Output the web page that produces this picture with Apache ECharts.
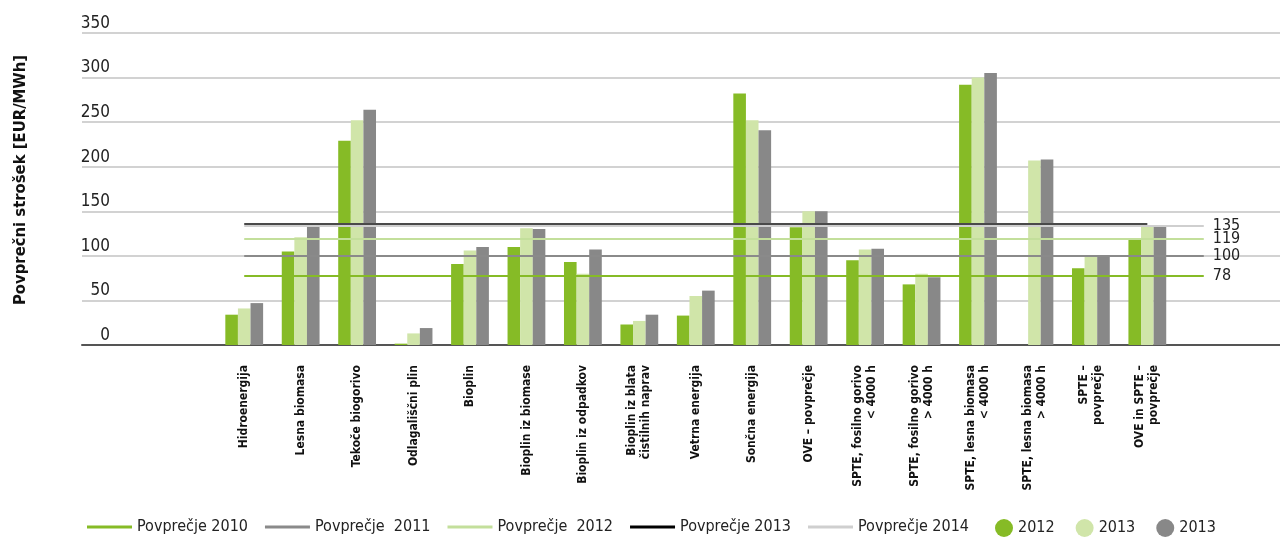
<!DOCTYPE html>
<html>
<head>
<meta charset="utf-8">
<title>Povprečni strošek</title>
<script src="https://cdn.jsdelivr.net/npm/echarts@6/dist/echarts.min.js"></script>
<style>
  html, body { margin: 0; padding: 0; background: #fff; }
  #main { width: 1280px; height: 538px; }
</style>
</head>
<body>
<div id="main"></div>
<script>
// data
var categories = ['Hidroenergija', 'Lesna biomasa', 'Tekoče biogorivo', 'Odlagališčni plin', 'Bioplin',
    'Bioplin iz biomase', 'Bioplin iz odpadkov', 'Bioplin iz blata\nčistilnih naprav', 'Vetrna energija',
    'Sončna energija', 'OVE – povprečje', 'SPTE, fosilno gorivo\n< 4000 h', 'SPTE, fosilno gorivo\n> 4000 h',
    'SPTE, lesna biomasa\n< 4000 h', 'SPTE, lesna biomasa\n> 4000 h', 'SPTE –\npovprečje', 'OVE in SPTE –\npovprečje'];
var cost2012  = [34, 105, 229, 1.5, 91, 110, 93, 23, 33, 282, 132, 95, 68, 292, null, 86, 118];
var cost2013a = [41, 121, 252, 13, 106, 131, 80, 27, 55, 252, 150, 107, 80, 300, 207, 99, 134];
var cost2013b = [47, 134, 264, 19, 110, 130, 107, 34, 61, 241, 150, 108, 76, 305, 208, 100, 134];
var barNames = ['2012', '2013', '2013 '];
var barColors = ['#86bb26', '#d0e5a9', '#888888'];

var avgNames  = ['Povprečje 2010', 'Povprečje  2011', 'Povprečje  2012', 'Povprečje 2013', 'Povprečje 2014'];
var avgValues = [78, 100, 119, 136, 134];
var avgLabels = ['78', '100', '119', '', '135'];
var avgColors = ['#86bb26', '#8a8a8a', '#c3df9b', '#4a4a4a', '#cfcfcf'];
var avgLegendColors = ['#86bb26', '#8a8a8a', '#c3df9b', '#000000', '#cfcfcf'];
var avgLastCat = [17, 17, 17, 16, 17];

var yTicks = { min: 0, max: 350, interval: 50 };

var FONT = '"DejaVu Sans Condensed", "DejaVu Sans", sans-serif';

var myChart = echarts.init(document.getElementById('main'));

var series = [];
for (var i = 0; i < 3; i++) {
    series.push({
        name: barNames[i],
        type: 'bar',
        xAxisIndex: 1,
        yAxisIndex: 1,
        data: [cost2012, cost2013a, cost2013b][i],
        barWidth: 12.6,
        barGap: '0%',
        itemStyle: { color: barColors[i] },
        z: 2,
        animation: false
    });
}
for (var j = 0; j < avgNames.length; j++) {
    series.push({
        name: avgNames[j],
        type: 'line',
        xAxisIndex: 1,
        yAxisIndex: 1,
        data: [],
        color: avgLegendColors[j],
        z: 3 + j,
        animation: false,
        markLine: {
            silent: true,
            symbol: ['none', 'none'],
            animation: false,
            lineStyle: { color: avgColors[j], width: 2, type: 'solid' },
            label: {
                show: avgLabels[j] !== '',
                position: 'end',
                distance: 9,
                formatter: avgLabels[j],
                color: '#222',
                fontFamily: FONT,
                fontSize: 16
            },
            data: [[
                { coord: [0, avgValues[j]] },
                { coord: [avgLastCat[j], avgValues[j]] }
            ]]
        }
    });
}

option = {
    backgroundColor: '#fff',
    textStyle: { fontFamily: FONT },
    grid: [
        { left: 82, right: 0, top: 33, bottom: 193 },
        { left: 216, right: 48, top: 33, bottom: 193 }
    ],
    xAxis: [
        {
            type: 'value', gridIndex: 0, min: 0, max: 1,
            axisLine: { show: true, lineStyle: { color: '#555', width: 2 } },
            axisTick: { show: false }, axisLabel: { show: false }, splitLine: { show: false }
        },
        {
            type: 'category', gridIndex: 1,
            data: categories.concat(['']),
            axisLine: { show: false }, axisTick: { show: false },
            axisLabel: {
                interval: 0,
                rotate: 90,
                margin: 20,
                fontFamily: FONT,
                fontWeight: 'bold',
                fontSize: 12,
                lineHeight: 14,
                color: '#111'
            }
        }
    ],
    yAxis: [
        {
            type: 'value', gridIndex: 0,
            min: yTicks.min, max: yTicks.max, interval: yTicks.interval,
            axisLine: { show: false }, axisTick: { show: false },
            axisLabel: {
                inside: true,
                margin: 28,
                align: 'right',
                verticalAlign: 'bottom',
                padding: [0, 0, 1, 0],
                fontFamily: FONT,
                fontSize: 17,
                color: '#222'
            },
            splitLine: { lineStyle: { color: '#d2d2d2', width: 2 } }
        },
        {
            type: 'value', gridIndex: 1,
            min: yTicks.min, max: yTicks.max, interval: yTicks.interval,
            show: false, splitLine: { show: false }
        }
    ],
    legend: [
        {
            data: avgNames,
            left: 82,
            top: 514,
            icon: 'rect',
            itemWidth: 45,
            itemHeight: 3,
            itemGap: 17,
            selectedMode: false,
            textStyle: { fontFamily: FONT, fontSize: 16, color: '#222' }
        },
        {
            data: barNames,
            left: 990,
            top: 514,
            icon: 'circle',
            itemWidth: 18,
            itemHeight: 18,
            itemGap: 21,
            selectedMode: false,
            textStyle: { fontFamily: FONT, fontSize: 16, color: '#222' }
        }
    ],
    graphic: [
        {
            type: 'text',
            x: 21,
            y: 180,
            rotation: Math.PI / 2,
            style: {
                text: 'Povprečni strošek [EUR/MWh]',
                fontFamily: FONT,
                fontWeight: 'bold',
                fontSize: 16.5,
                fill: '#111',
                textAlign: 'center',
                textVerticalAlign: 'middle'
            }
        }
    ],
    series: series
};
myChart.setOption(option);
</script>
</body>
</html>
